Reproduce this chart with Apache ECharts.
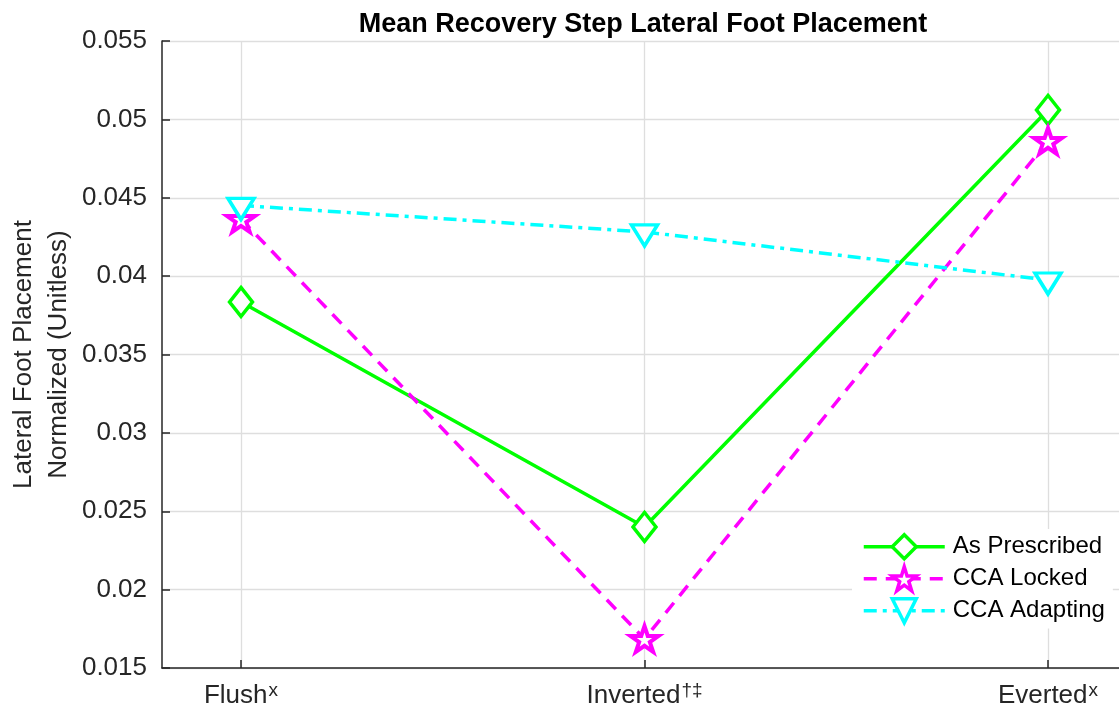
<!DOCTYPE html>
<html><head><meta charset="utf-8">
<script src="https://cdn.jsdelivr.net/npm/echarts@6/dist/echarts.min.js"></script>
<style>html,body{margin:0;padding:0;background:#fff}#c{width:1119px;height:711px}</style>
</head><body><div id="c"></div>
<script>
var categories = ['Flush', 'Inverted', 'Everted'];
var categorySup = ['x', '\u2020\u2021', 'x'];
var asPrescribed = [0.03835, 0.0240, 0.0506];
var ccaLocked = [0.04364, 0.01685, 0.04862];
var ccaAdapting = [0.04451, 0.04282, 0.03975];
var seriesNames = ['As Prescribed', 'CCA Locked', 'CCA Adapting'];

var FONT = 'Liberation Sans, Arial, sans-serif';
var starPath = 'path://M50,0 L61.8,36.3 L100,36.3 L69.1,58.8 L80.9,95.1 L50,72.7 L19.1,95.1 L30.9,58.8 L0,36.3 L38.2,36.3 Z';

function pts(arr){ return arr.map(function(v,i){ return [i+1, v]; }); }

var chart = echarts.init(document.getElementById('c'), null, {renderer:'canvas'});
chart.setOption({
  animation: false,
  backgroundColor: '#fff',
  title: {
    text: 'Mean Recovery Step Lateral Foot Placement',
    left: 638, top: 6, textAlign: 'center',
    textStyle: {fontFamily: FONT, fontWeight: 'bold', fontSize: 27, color: '#000'}
  },
  grid: {left: 162, right: 0, top: 41, bottom: 43, containLabel: false, outerBoundsMode: 'none'},
  xAxis: {
    type: 'value', min: 0.8042, max: 3.176,
    axisLine: {show: true, lineStyle: {color: '#262626', width: 1.5}},
    axisTick: {show: true, inside: true, length: 8, customValues: [1,2,3], lineStyle: {color: '#262626', width: 1.5}},
    splitLine: {show: true, lineStyle: {color: '#dedede', width: 1.3}},
    axisLabel: {
      customValues: [1,2,3], margin: 13,
      formatter: function(v){ var i = Math.round(v)-1; return '{b|' + categories[i] + '}{s|' + categorySup[i] + '}'; },
      rich: {
        b: {fontFamily: FONT, fontSize: 26, lineHeight: 30, color: '#262626'},
        s: {fontFamily: FONT, fontSize: 19, lineHeight: 16, color: '#262626', verticalAlign: 'top', padding: [0,0,0,1]}
      }
    }
  },
  yAxis: {
    type: 'value', min: 0.015, max: 0.055, interval: 0.005,
    name: 'Lateral Foot Placement\nNormalized (Unitless)',
    nameLocation: 'middle', nameGap: 86, nameRotate: 90, nameMoveOverlap: false,
    nameTextStyle: {fontFamily: FONT, fontSize: 26, color: '#262626', lineHeight: 35},
    axisLine: {show: true, lineStyle: {color: '#262626', width: 1.5}},
    axisTick: {show: true, inside: true, length: 8, lineStyle: {color: '#262626', width: 1.5}},
    splitLine: {show: true, lineStyle: {color: '#dedede', width: 1.3}},
    axisLabel: {
      margin: 15, fontFamily: FONT, fontSize: 26, color: '#262626',
      formatter: function(v){ return String(parseFloat(v.toFixed(3))); }
    }
  },
  legend: {
    orient: 'vertical', left: 852, top: 529,
    backgroundColor: '#fff', padding: [4, 8, 4, 10],
    itemGap: 4.5, itemWidth: 81, itemHeight: 30,
    lineStyle: {width: 3.5},
    itemStyle: {borderWidth: 3.5},
    textStyle: {fontFamily: FONT, fontSize: 24, color: '#000', padding: [0,0,0,3]},
    data: seriesNames
  },
  series: [
    {
      name: seriesNames[0], type: 'line', data: pts(asPrescribed),
      symbol: 'diamond', symbolSize: [23, 29],
      lineStyle: {color: '#00ff00', width: 3.5, type: 'solid'},
      itemStyle: {color: '#fff', borderColor: '#00ff00', borderWidth: 3.5},
      z: 3
    },
    {
      name: seriesNames[1], type: 'line', data: pts(ccaLocked),
      symbol: starPath, symbolSize: [28, 27], symbolKeepAspect: true,
      lineStyle: {color: '#ff00ff', width: 3.5, type: [13, 9]},
      itemStyle: {color: '#fff', borderColor: '#ff00ff', borderWidth: 4},
      z: 4
    },
    {
      name: seriesNames[2], type: 'line', data: pts(ccaAdapting),
      symbol: 'triangle', symbolRotate: 180, symbolSize: [26, 21], symbolOffset: [0, 3.5],
      lineStyle: {color: '#00ffff', width: 3.5, type: [13, 6, 4, 6]},
      itemStyle: {color: '#fff', borderColor: '#00ffff', borderWidth: 3.5},
      z: 5
    }
  ]
});
</script>
</body></html>
